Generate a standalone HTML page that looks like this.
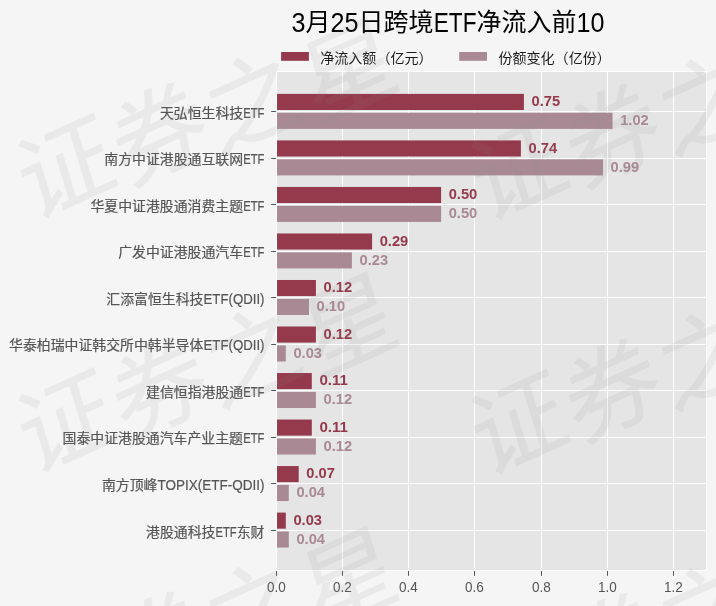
<!DOCTYPE html>
<html lang="zh-CN">
<head>
<meta charset="utf-8">
<title>3月25日跨境ETF净流入前10</title>
<style>
html,body{margin:0;padding:0;background:#f5f5f5;}
body{width:716px;height:606px;overflow:hidden;position:relative;}
svg{display:block;position:absolute;left:0;top:0;}
text{font-family:"Liberation Sans", "Noto Sans CJK SC", sans-serif;}
.yl{font-size:13.89px;fill:#555;stroke:#555;stroke-width:0.2px;}
.yla{font-size:14.72px;fill:#555;stroke:#555;stroke-width:0.2px;}
.xl{font-size:14.6px;fill:#555;text-anchor:middle;}
.lg{font-size:14.05px;fill:#1a1a1a;}
.vd{font-size:14.8px;font-weight:bold;fill:#953a4c;}
.vl{font-size:14.8px;font-weight:bold;fill:#a98994;}
.ttl{font-size:25px;fill:#000;}
.ttla{font-size:27.6px;fill:#000;}
.wm{font-size:100px;font-weight:400;fill:#8c8c8c;stroke:#8c8c8c;stroke-width:0.7px;opacity:0.10;}
</style>
</head>
<body>
<svg width="716" height="606" viewBox="0 0 716 606">
<rect x="0" y="0" width="716" height="606" fill="#f5f5f5"/>

<rect x="276.5" y="71.5" width="430.0" height="499.0" fill="#e5e5e5"/>
<g stroke="#ffffff" stroke-width="1.05">
<line x1="276.5" y1="71.5" x2="276.5" y2="570.5"/>
<line x1="342.5" y1="71.5" x2="342.5" y2="570.5"/>
<line x1="408.5" y1="71.5" x2="408.5" y2="570.5"/>
<line x1="474.5" y1="71.5" x2="474.5" y2="570.5"/>
<line x1="541.5" y1="71.5" x2="541.5" y2="570.5"/>
<line x1="607.5" y1="71.5" x2="607.5" y2="570.5"/>
<line x1="673.5" y1="71.5" x2="673.5" y2="570.5"/>
<line x1="276.5" y1="111.5" x2="706.5" y2="111.5"/>
<line x1="276.5" y1="158.5" x2="706.5" y2="158.5"/>
<line x1="276.5" y1="204.5" x2="706.5" y2="204.5"/>
<line x1="276.5" y1="251.5" x2="706.5" y2="251.5"/>
<line x1="276.5" y1="297.5" x2="706.5" y2="297.5"/>
<line x1="276.5" y1="344.5" x2="706.5" y2="344.5"/>
<line x1="276.5" y1="390.5" x2="706.5" y2="390.5"/>
<line x1="276.5" y1="437.5" x2="706.5" y2="437.5"/>
<line x1="276.5" y1="483.5" x2="706.5" y2="483.5"/>
<line x1="276.5" y1="530.5" x2="706.5" y2="530.5"/>
</g>
<rect x="277" y="93.90" width="246.9" height="16.1" fill="#953a4c"/>
<rect x="277" y="112.80" width="335.6" height="16.1" fill="#a98994"/>
<rect x="277" y="140.42" width="243.9" height="16.1" fill="#953a4c"/>
<rect x="277" y="159.32" width="326.0" height="16.1" fill="#a98994"/>
<rect x="277" y="186.94" width="164.1" height="16.1" fill="#953a4c"/>
<rect x="277" y="205.84" width="164.1" height="16.1" fill="#a98994"/>
<rect x="277" y="233.46" width="95.1" height="16.1" fill="#953a4c"/>
<rect x="277" y="252.36" width="74.9" height="16.1" fill="#a98994"/>
<rect x="277" y="279.98" width="38.9" height="16.1" fill="#953a4c"/>
<rect x="277" y="298.88" width="32.0" height="16.1" fill="#a98994"/>
<rect x="277" y="326.50" width="38.9" height="16.1" fill="#953a4c"/>
<rect x="277" y="345.40" width="8.8" height="16.1" fill="#a98994"/>
<rect x="277" y="373.02" width="34.8" height="16.1" fill="#953a4c"/>
<rect x="277" y="391.92" width="38.9" height="16.1" fill="#a98994"/>
<rect x="277" y="419.54" width="34.8" height="16.1" fill="#953a4c"/>
<rect x="277" y="438.44" width="38.9" height="16.1" fill="#a98994"/>
<rect x="277" y="466.06" width="21.7" height="16.1" fill="#953a4c"/>
<rect x="277" y="484.96" width="11.8" height="16.1" fill="#a98994"/>
<rect x="277" y="512.58" width="8.8" height="16.1" fill="#953a4c"/>
<rect x="277" y="531.48" width="11.8" height="16.1" fill="#a98994"/>
<rect x="276.5" y="71.5" width="430.0" height="499.0" fill="none" stroke="#ffffff" stroke-width="1.05"/>
<g stroke="#555555" stroke-width="1.05">
<line x1="276.5" y1="571.0" x2="276.5" y2="575.8"/>
<line x1="342.5" y1="571.0" x2="342.5" y2="575.8"/>
<line x1="408.5" y1="571.0" x2="408.5" y2="575.8"/>
<line x1="474.5" y1="571.0" x2="474.5" y2="575.8"/>
<line x1="541.5" y1="571.0" x2="541.5" y2="575.8"/>
<line x1="607.5" y1="571.0" x2="607.5" y2="575.8"/>
<line x1="673.5" y1="571.0" x2="673.5" y2="575.8"/>
<line x1="271.2" y1="111.5" x2="276.0" y2="111.5"/>
<line x1="271.2" y1="158.5" x2="276.0" y2="158.5"/>
<line x1="271.2" y1="204.5" x2="276.0" y2="204.5"/>
<line x1="271.2" y1="251.5" x2="276.0" y2="251.5"/>
<line x1="271.2" y1="297.5" x2="276.0" y2="297.5"/>
<line x1="271.2" y1="344.5" x2="276.0" y2="344.5"/>
<line x1="271.2" y1="390.5" x2="276.0" y2="390.5"/>
<line x1="271.2" y1="437.5" x2="276.0" y2="437.5"/>
<line x1="271.2" y1="483.5" x2="276.0" y2="483.5"/>
<line x1="271.2" y1="530.5" x2="276.0" y2="530.5"/>
</g>
<text class="vd" x="531.5" y="106.0" textLength="28.6" lengthAdjust="spacingAndGlyphs">0.75</text>
<text class="vl" x="620.2" y="125.0" textLength="28.6" lengthAdjust="spacingAndGlyphs">1.02</text>
<text class="vd" x="528.5" y="152.6" textLength="28.6" lengthAdjust="spacingAndGlyphs">0.74</text>
<text class="vl" x="610.6" y="171.5" textLength="28.6" lengthAdjust="spacingAndGlyphs">0.99</text>
<text class="vd" x="448.7" y="199.1" textLength="28.6" lengthAdjust="spacingAndGlyphs">0.50</text>
<text class="vl" x="448.7" y="218.0" textLength="28.6" lengthAdjust="spacingAndGlyphs">0.50</text>
<text class="vd" x="379.7" y="245.6" textLength="28.6" lengthAdjust="spacingAndGlyphs">0.29</text>
<text class="vl" x="359.5" y="264.5" textLength="28.6" lengthAdjust="spacingAndGlyphs">0.23</text>
<text class="vd" x="323.5" y="292.1" textLength="28.6" lengthAdjust="spacingAndGlyphs">0.12</text>
<text class="vl" x="316.6" y="311.0" textLength="28.6" lengthAdjust="spacingAndGlyphs">0.10</text>
<text class="vd" x="323.5" y="338.7" textLength="28.6" lengthAdjust="spacingAndGlyphs">0.12</text>
<text class="vl" x="293.4" y="357.6" textLength="28.6" lengthAdjust="spacingAndGlyphs">0.03</text>
<text class="vd" x="319.4" y="385.2" textLength="28.6" lengthAdjust="spacingAndGlyphs">0.11</text>
<text class="vl" x="323.5" y="404.1" textLength="28.6" lengthAdjust="spacingAndGlyphs">0.12</text>
<text class="vd" x="319.4" y="431.7" textLength="28.6" lengthAdjust="spacingAndGlyphs">0.11</text>
<text class="vl" x="323.5" y="450.6" textLength="28.6" lengthAdjust="spacingAndGlyphs">0.12</text>
<text class="vd" x="306.3" y="478.2" textLength="28.6" lengthAdjust="spacingAndGlyphs">0.07</text>
<text class="vl" x="296.4" y="497.1" textLength="28.6" lengthAdjust="spacingAndGlyphs">0.04</text>
<text class="vd" x="293.4" y="524.7" textLength="28.6" lengthAdjust="spacingAndGlyphs">0.03</text>
<text class="vl" x="296.4" y="543.6" textLength="28.6" lengthAdjust="spacingAndGlyphs">0.04</text>
<text class="yl" x="159.9" y="117.8">天弘恒生科技</text>
<text class="yla" x="243.2" y="117.8" textLength="21.3" lengthAdjust="spacingAndGlyphs">ETF</text>
<text class="yl" x="104.3" y="164.3">南方中证港股通互联网</text>
<text class="yla" x="243.2" y="164.3" textLength="21.3" lengthAdjust="spacingAndGlyphs">ETF</text>
<text class="yl" x="90.4" y="210.8">华夏中证港股通消费主题</text>
<text class="yla" x="243.2" y="210.8" textLength="21.3" lengthAdjust="spacingAndGlyphs">ETF</text>
<text class="yl" x="118.2" y="257.4">广发中证港股通汽车</text>
<text class="yla" x="243.2" y="257.4" textLength="21.3" lengthAdjust="spacingAndGlyphs">ETF</text>
<text class="yl" x="106.3" y="303.9">汇添富恒生科技</text>
<text class="yla" x="203.5" y="303.9" textLength="61.0" lengthAdjust="spacingAndGlyphs">ETF(QDII)</text>
<text class="yl" x="9.0" y="350.4">华泰柏瑞中证韩交所中韩半导体</text>
<text class="yla" x="203.5" y="350.4" textLength="61.0" lengthAdjust="spacingAndGlyphs">ETF(QDII)</text>
<text class="yl" x="146.0" y="396.9">建信恒指港股通</text>
<text class="yla" x="243.2" y="396.9" textLength="21.3" lengthAdjust="spacingAndGlyphs">ETF</text>
<text class="yl" x="62.6" y="443.4">国泰中证港股通汽车产业主题</text>
<text class="yla" x="243.2" y="443.4" textLength="21.3" lengthAdjust="spacingAndGlyphs">ETF</text>
<text class="yl" x="101.9" y="490.0">南方顶峰</text>
<text class="yla" x="157.5" y="490.0" textLength="107.0" lengthAdjust="spacingAndGlyphs">TOPIX(ETF-QDII)</text>
<text class="yl" x="146.0" y="536.5">港股通科技</text>
<text class="yla" x="215.4" y="536.5" textLength="21.3" lengthAdjust="spacingAndGlyphs">ETF</text>
<text class="yl" x="236.7" y="536.5">东财</text>
<text class="xl" x="276.5" y="592.4" textLength="18.8" lengthAdjust="spacingAndGlyphs">0.0</text>
<text class="xl" x="342.5" y="592.4" textLength="18.8" lengthAdjust="spacingAndGlyphs">0.2</text>
<text class="xl" x="408.5" y="592.4" textLength="18.8" lengthAdjust="spacingAndGlyphs">0.4</text>
<text class="xl" x="474.5" y="592.4" textLength="18.8" lengthAdjust="spacingAndGlyphs">0.6</text>
<text class="xl" x="541.5" y="592.4" textLength="18.8" lengthAdjust="spacingAndGlyphs">0.8</text>
<text class="xl" x="607.5" y="592.4" textLength="18.8" lengthAdjust="spacingAndGlyphs">1.0</text>
<text class="xl" x="673.5" y="592.4" textLength="18.8" lengthAdjust="spacingAndGlyphs">1.2</text>
<rect x="281.1" y="52" width="27.8" height="8.8" fill="#953a4c"/>
<text class="lg" x="320.2" y="62.6">净流入额（亿元）</text>
<rect x="459.2" y="52" width="27.8" height="8.8" fill="#a98994"/>
<text class="lg" x="498.4" y="62.6">份额变化（亿份）</text>
<text class="ttla" x="291.5" y="31.7" textLength="14" lengthAdjust="spacingAndGlyphs">3</text>
<text class="ttl" x="305.5" y="31.0">月</text>
<text class="ttla" x="330.5" y="31.7" textLength="28" lengthAdjust="spacingAndGlyphs">25</text>
<text class="ttl" x="358.5" y="31.0">日跨境</text>
<text class="ttla" x="433.7" y="31.7" textLength="42.8" lengthAdjust="spacingAndGlyphs">ETF</text>
<text class="ttl" x="476.5" y="31.0">净流入前</text>
<text class="ttla" x="576.5" y="31.7" textLength="28" lengthAdjust="spacingAndGlyphs">10</text>
<text class="wm" transform="matrix(0.8932 -0.4033 0.2792 0.9133 -422.0 -35.5)" x="0 102 204 308" y="0 9 18 30">证券之星</text>
<text class="wm" transform="matrix(0.8932 -0.4033 0.2792 0.9133 31.0 -34.0)" x="0 102 204 308" y="0 9 18 30">证券之星</text>
<text class="wm" transform="matrix(0.8932 -0.4033 0.2792 0.9133 484.0 -32.5)" x="0 102 204 308" y="0 9 18 30">证券之星</text>
<text class="wm" transform="matrix(0.8932 -0.4033 0.2792 0.9133 -422.0 219.0)" x="0 102 204 308" y="0 9 18 30">证券之星</text>
<text class="wm" transform="matrix(0.8932 -0.4033 0.2792 0.9133 31.0 220.5)" x="0 102 204 308" y="0 9 18 30">证券之星</text>
<text class="wm" transform="matrix(0.8932 -0.4033 0.2792 0.9133 484.0 222.0)" x="0 102 204 308" y="0 9 18 30">证券之星</text>
<text class="wm" transform="matrix(0.8932 -0.4033 0.2792 0.9133 -422.0 473.5)" x="0 102 204 308" y="0 9 18 30">证券之星</text>
<text class="wm" transform="matrix(0.8932 -0.4033 0.2792 0.9133 31.0 475.0)" x="0 102 204 308" y="0 9 18 30">证券之星</text>
<text class="wm" transform="matrix(0.8932 -0.4033 0.2792 0.9133 484.0 476.5)" x="0 102 204 308" y="0 9 18 30">证券之星</text>
<text class="wm" transform="matrix(0.8932 -0.4033 0.2792 0.9133 -422.0 728.0)" x="0 102 204 308" y="0 9 18 30">证券之星</text>
<text class="wm" transform="matrix(0.8932 -0.4033 0.2792 0.9133 31.0 729.5)" x="0 102 204 308" y="0 9 18 30">证券之星</text>
<text class="wm" transform="matrix(0.8932 -0.4033 0.2792 0.9133 484.0 731.0)" x="0 102 204 308" y="0 9 18 30">证券之星</text>
</svg>
</body>
</html>
